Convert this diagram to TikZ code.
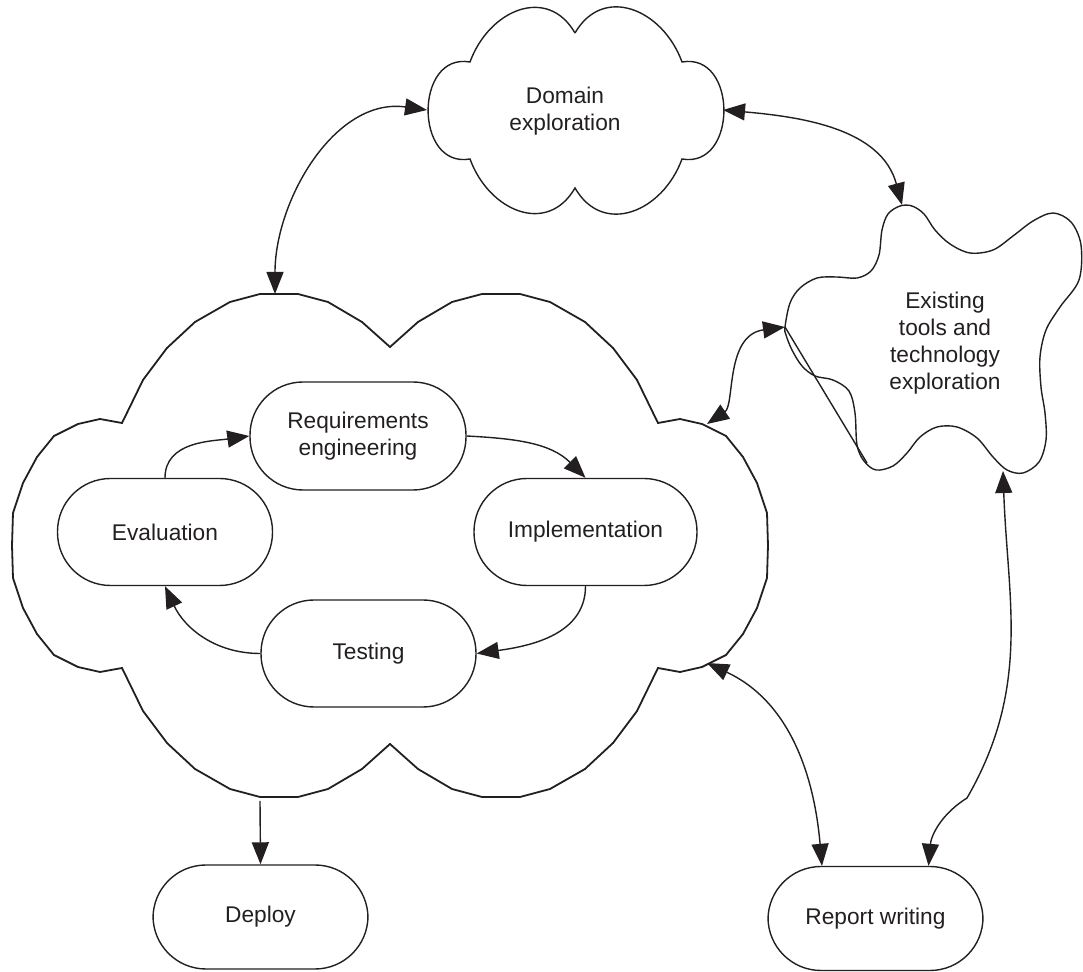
\documentclass[tikz,border=0pt]{standalone}
\usepackage{fontspec}
\setmainfont{Liberation Sans}
\usetikzlibrary{arrows.meta,calc}
\definecolor{ink}{HTML}{231F20}
\newcommand{\fsz}{\fontsize{11.35}{13.5}\selectfont}
\begin{document}
\begin{tikzpicture}[x=0.5pt,y=0.5pt,
  line width=0.7pt, color=ink,
  proc/.style={draw, rounded corners=26.5pt, minimum width=107.5pt, minimum height=53.5pt, inner sep=0pt, align=center, font=\fsz},
  tip/.style={-{Triangle[length=11pt,width=8.5pt]}},
  dtip/.style={{Triangle[length=11pt,width=8.5pt]}-{Triangle[length=11pt,width=8.5pt]}},
  lbl/.style={align=center, font=\fsz, inner sep=0pt}]
\useasboundingbox (0,0) rectangle (1083,-972);

% process nodes
\node[proc, minimum width=108pt, minimum height=54pt] (req) at (358,-436) {Requirements\\engineering};
\node[proc] (eval) at (165,-532) {Evaluation};
\node[proc, minimum width=111.5pt] (impl) at (585.5,-532) {Implementation};
\node[proc] (test) at (368.5,-653.5) {Testing};
\node[proc, minimum height=52pt] (deploy) at (260.5,-917) {Deploy};
\node[proc, minimum height=52pt] (report) at (875.5,-918.5) {Report writing};

% domain cloud
\draw (575,-33) to[out=60,in=110,looseness=1.3] (682,-62)
  to[out=10,in=-10,looseness=1.5] (682,-159)
  to[out=-110,in=-60,looseness=1.3] (575,-188)
  to[out=-120,in=-70,looseness=1.3] (470,-159)
  to[out=190,in=170,looseness=1.5] (470,-62)
  to[out=70,in=120,looseness=1.3] (575,-33);
\node[lbl] (dom) at (565,-111) {Domain\\exploration};
\coordinate (dL) at (427,-110);
\coordinate (dR) at (723,-110);

% big cloud
\draw[line width=0.9pt]
  (390,-347) -- (362,-322) -- (328,-302) -- (298,-294) -- (260,-294) -- (230,-302) -- (195,-322) -- (167,-348) -- (143,-380) -- (122,-423)
  -- (100,-419) -- (78,-424) -- (54,-436) -- (37,-457) -- (23,-483) -- (13,-513) -- (12,-545.5)
  -- (13,-578) -- (23,-608) -- (37,-634) -- (54,-655) -- (78,-667) -- (100,-672) -- (122,-668)
  -- (143,-711) -- (167,-743) -- (195,-769) -- (230,-789) -- (260,-797) -- (298,-797) -- (328,-789) -- (362,-769) -- (390,-744)
  -- (418,-769) -- (452,-789) -- (482,-797) -- (520,-797) -- (550,-789) -- (585,-769) -- (613,-743) -- (637,-711) -- (658,-668)
  -- (680,-672) -- (702,-667) -- (726,-655) -- (743,-634) -- (757,-608) -- (767,-578) -- (768,-545.5)
  -- (767,-513) -- (757,-483) -- (743,-457) -- (726,-436) -- (702,-424) -- (680,-419) -- (658,-423)
  -- (637,-380) -- (613,-348) -- (585,-322) -- (550,-302) -- (520,-294) -- (482,-294) -- (452,-302) -- (418,-322) -- cycle;
\coordinate (bTop) at (275,-294);
\coordinate (bR) at (707,-424);
\coordinate (bRb) at (707,-663);
\coordinate (bBot) at (260,-801);

% existing tools blob
\draw plot[smooth cycle, tension=0.55] coordinates {
  (785,-327) (790,-303) (800,-288) (817,-278) (837,-277) (857,-278) (871,-271) (879,-255) (882,-230) (888,-214) (900,-206)
  (912,-206) (924,-214) (935,-230) (950,-244) (970,-253) (993,-250) (1013,-236) (1033,-221) (1053,-213) (1071,-222)
  (1081,-245) (1079,-280) (1060,-307) (1046,-330) (1040,-357) (1041,-387) (1045,-413) (1046,-440) (1039,-462)
  (1023,-473) (1007,-470) (993,-457) (977,-438) (957,-427) (937,-427) (920,-437) (907,-453) (893,-466) (876,-470)
  (864,-461) (857,-445) (855,-413) (849,-391) (833,-380) (815,-376) (802,-366) (792,-350) (786,-335)};
\draw (785,-327) -- (867,-463);
\node[lbl] (ext) at (945,-343) {Existing\\tools and\\technology\\exploration};
\coordinate (eT) at (902,-205);
\coordinate (eL) at (785,-327);
\coordinate (eB) at (1003,-471);

% internal cycle
\draw[tip] (eval.north) to[out=90,in=188] (req.west);
\draw[tip] (req.east) to[out=-3,in=135] (impl.north);
\draw[tip] (impl.south) to[out=-90,in=8] (test.east);
\draw[tip] (test.west) to[out=180,in=-65] (eval.south);

% outer connectors
\draw[tip] (bBot) -- (deploy.north);
\draw[dtip] (bTop) to[out=90,in=172] (dL);
\draw[dtip] (dR) to[out=-5,in=105] (eT);
\draw[dtip] (bR) .. controls (735,-405) and (725,-335) .. (eL);
\draw[dtip] (bRb) to[out=-25,in=95] ([xshift=-26.75pt]report.north);
\draw[dtip] (eB) to[out=-88,in=60] (967,-798) to[out=212,in=85] ([xshift=26.5pt]report.north);
\end{tikzpicture}
\end{document}
